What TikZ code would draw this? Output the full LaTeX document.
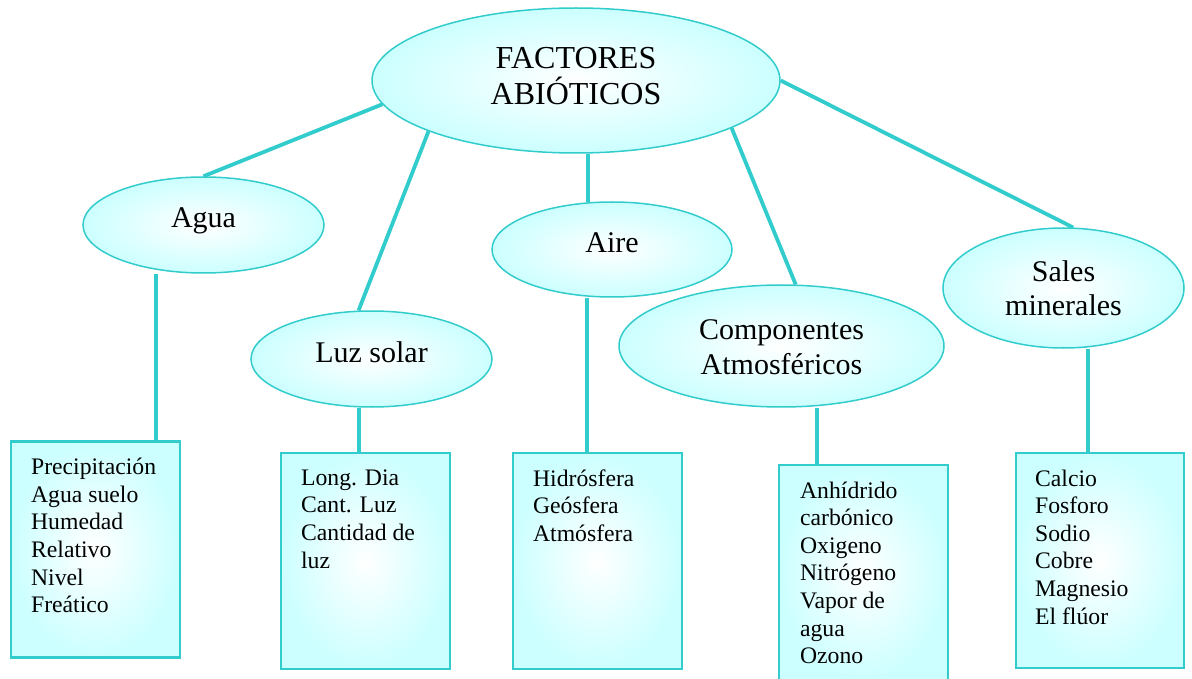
\documentclass[tikz,border=0pt]{standalone}
\usepackage{fontspec}
\setmainfont{Liberation Serif}
\usetikzlibrary{shapes.geometric,calc}

\definecolor{abioline}{RGB}{51,204,204}
\definecolor{abiofill}{RGB}{204,255,255}

\tikzset{
  factor/.style={ellipse, draw=abioline, line width=1.5pt, inner color=white, outer color=abiofill,
    inner sep=0pt, align=center, font=\fontsize{30}{34.5}\selectfont, text height=6pt, text depth=0pt},
  listbox/.style={rectangle, draw=abioline, line width=2.2pt, inner color=white, outer color=abiofill,
    inner sep=0pt, minimum width=169pt, minimum height=216pt},
  listtext/.style={anchor=north west, align=left, inner sep=0pt, font=\fontsize{23.7}{27.6}\selectfont,
    execute at begin node=\strut},
  link/.style={draw=abioline, line width=3.8pt}
}

\begin{document}
\begin{tikzpicture}[x=1pt,y=1pt,yscale=-1]
\useasboundingbox (0,0) rectangle (1192,679);

%Ellipses
\node[factor, minimum width=408pt, minimum height=145pt, font=\fontsize{32}{36}\selectfont, text height=49pt] (abio) at (576,80.5) {FACTORES\\ABIÓTICOS};
\node[factor, minimum width=241pt, minimum height=96pt] (agua) at (203.5,225) {Agua};
\node[factor, minimum width=241pt, minimum height=96pt] (luz) at (371.5,359) {Luz solar};
\node[factor, minimum width=240pt, minimum height=95pt] (aire) at (612,249.5) {Aire};
\node[factor, minimum width=325pt, minimum height=122pt, text height=56pt] (comp) at (781.5,346) {Componentes\\Atmosféricos};
\node[factor, minimum width=241pt, minimum height=120pt, text height=56pt] (sales) at (1063.5,288) {Sales\\minerales};

%Boxes
\node[listbox] (aguabox) at (95.5,549.5) {};
\node[listbox] (luzbox) at (365.5,561) {};
\node[listbox] (airebox) at (597.5,561) {};
\node[listbox] (compbox) at (863.5,573) {};
\node[listbox, minimum width=168pt, minimum height=215pt] (salesbox) at (1100,560.5) {};

%Straight Lines from the top
\draw[link] (abio.187) -- (agua.north);
\draw[link] (abio.199) -- (luz.105);
\draw[link] (aire.117) -- (aire.117 |- abio.south);
\draw[link] (abio.343) -- (comp.77);
\draw[link] (abio.east) -- (sales.81);

%Straight Lines down to the boxes
\coordinate (aguadrop) at ($(agua.south)+(-47.5,0)$);
\coordinate (luzdrop) at ($(luz.south)+(-12.5,0)$);
\coordinate (airedrop) at ($(aire.south)+(-25,0)$);
\coordinate (compdrop) at ($(comp.south)+(35.5,0)$);
\coordinate (salesdrop) at ($(sales.south)+(24.5,0)$);
\draw[link] (aguadrop) -- (aguadrop |- aguabox.north);
\draw[link] (luzdrop) -- (luzdrop |- luzbox.north);
\draw[link] (airedrop) -- (airedrop |- airebox.north);
\draw[link] (compdrop) -- (compdrop |- compbox.north);
\draw[link] (salesdrop) -- (salesdrop |- salesbox.north);

% Text Nodes
\node[listtext] (aguatext) at ($(aguabox.north west)+(21,17.6)$) {Precipitación\\Agua suelo\\Humedad\\Relativo\\Nivel\\Freático};
\node[listtext] (luztext) at ($(luzbox.north west)+(21,17.6)$) {Long. Dia\\Cant. Luz\\Cantidad de\\luz};
\node[listtext] (airetext) at ($(airebox.north west)+(21,17.6)$) {Hidrósfera\\Geósfera\\Atmósfera};
\node[listtext] (comptext) at ($(compbox.north west)+(22,17.6)$) {Anhídrido\\carbónico\\Oxigeno\\Nitrógeno\\Vapor de\\agua\\Ozono};
\node[listtext] (salestext) at ($(salesbox.north west)+(20,17.6)$) {Calcio\\Fosforo\\Sodio\\Cobre\\Magnesio\\El flúor};

\end{tikzpicture}
\end{document}
